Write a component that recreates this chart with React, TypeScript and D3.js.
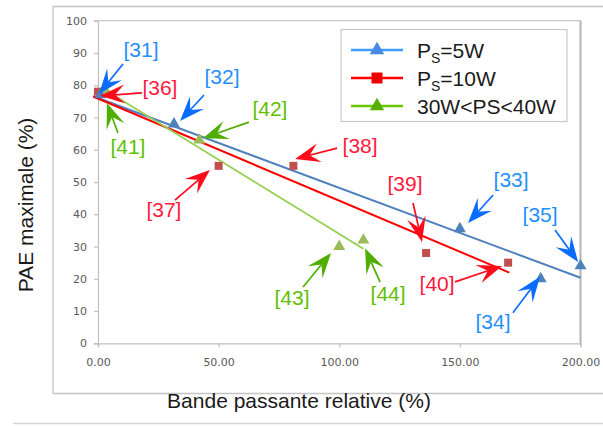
import React, { useEffect, useRef } from "react";
import * as d3 from "d3";

// ---- data ----
const ps5X = [1, 31.5, 150, 183.5, 200];
const ps5Y = [77, 68, 35.5, 20, 24];
const ps10X = [0, 50, 81, 136, 170];
const ps10Y = [78, 55, 55, 28, 25];
const ps30X = [3, 42, 100, 110];
const ps30Y = [78.5, 63, 30, 32];

const trend5X = [-2, 200];
const trend5Y = [76.6, 20.3];
const trend10X = [-2, 170.5];
const trend10Y = [76.5, 21.9];
const trend30X = [2, 110];
const trend30Y = [79, 29.3];

const yTicks = [0, 10, 20, 30, 40, 50, 60, 70, 80, 90, 100];
const xTicks = [0, 50, 100, 150, 200];

const refLabels = ["[31]", "[36]", "[41]", "[32]", "[42]", "[37]", "[38]", "[39]", "[40]", "[33]", "[35]", "[34]", "[43]", "[44]"];
const refX = [0.4, 0.8, 3.7, 34, 43.5, 46.4, 81.7, 134.3, 167.5, 153.4, 199, 183.2, 96.6, 110.7];
const refY = [77.3, 76.7, 74.5, 68.9, 63.6, 53.7, 57.1, 31.4, 24.0, 37.3, 25.2, 20.6, 28, 29.5];
const refSeries = [0, 1, 2, 0, 2, 1, 1, 1, 1, 0, 0, 0, 2, 2];

// ---- layout (pixel offsets of arrow tails / labels from arrow tips) ----
const tailDX = [24, 42, 11, 24, 46, -35, 42, -9, -47, 25, -23, -27, -28, 15];
const tailDY = [-30, -3, 30, -26, -16, 30, -11, -39, 16, -28, -32, 36, 34, 34];
const labDX = [42, 60, 21, 42, 67, -46, 65, -17, -65, 43, -38, -47, -39, 23];
const labDY = [-36.5, -0.4, 51, -37, -22, 47, -6, -51, 25, -36, -40, 52, 52, 53];

const textColors = ["#1f8fff", "#ff1a3c", "#5fbf00"];
const arrowColors = ["#0a6cff", "#ff0a1a", "#4fae00"];

const W = 603;
const H = 426;
const x = d3.scaleLinear().domain([0, 200]).range([98, 580.5]);
const y = d3.scaleLinear().domain([0, 100]).range([343.3, 20.7]);

const lineGen = d3
  .line<[number, number]>()
  .x((d) => x(d[0]))
  .y((d) => y(d[1]));

function zip(a: number[], b: number[]): [number, number][] {
  return a.map((v, i) => [v, b[i]]);
}

const tri = d3.symbol(d3.symbolTriangle, 62)();
const sq = d3.symbol(d3.symbolSquare, 64)();
const triL = d3.symbol(d3.symbolTriangle, 90)();
const sqL = d3.symbol(d3.symbolSquare, 121)();

function arrowPath(tx: number, ty: number, px: number, py: number) {
  const dx = px - tx;
  const dy = py - ty;
  const len = Math.hypot(dx, dy);
  const ux = dx / len;
  const uy = dy / len;
  const nx = -uy;
  const ny = ux;
  const L = 25;
  const Wd = 9.5;
  const notch = 10;
  const lx = px - ux * L + nx * Wd;
  const ly = py - uy * L + ny * Wd;
  const rx = px - ux * L - nx * Wd;
  const ry = py - uy * L - ny * Wd;
  const mx = px - ux * (L - notch);
  const my = py - uy * (L - notch);
  return {
    shaft: `M${tx},${ty}L${mx},${my}`,
    head: `M${px},${py}L${lx},${ly}L${mx},${my}L${rx},${ry}Z`,
  };
}

export default function App() {
  const xAxisRef = useRef<SVGGElement>(null);
  const yAxisRef = useRef<SVGGElement>(null);

  useEffect(() => {
    const xa = d3
      .axisBottom(x)
      .tickValues(xTicks)
      .tickFormat(d3.format(".2f"))
      .tickSize(4)
      .tickPadding(11);
    const ya = d3.axisLeft(y).tickValues(yTicks).tickSize(4).tickPadding(7);
    const gx = d3.select(xAxisRef.current!);
    gx.call(xa as any);
    const gy = d3.select(yAxisRef.current!);
    gy.call(ya as any);
    [gx, gy].forEach((g) => {
      g.select(".domain").attr("stroke", "#bfbfbf").attr("stroke-width", 1.2);
      g.selectAll(".tick line").attr("stroke", "#bfbfbf").attr("stroke-width", 1.2);
      g.selectAll(".tick text")
        .attr("fill", "#595959")
        .attr("font-size", 11)
        .attr("font-family", "DejaVu Sans, sans-serif");
    });
  }, []);

  const font = "Liberation Sans, Arial, sans-serif";

  return (
    <svg width={W} height={H} style={{ position: "absolute", left: 0, top: 0, background: "#fff" }}>
      {/* outer chart frame */}
      <path d="M53,393.5V6.5H603" fill="none" stroke="#c4c4c4" strokeWidth={1.3} />
      <path d="M53,393.5H603" fill="none" stroke="#c4c4c4" strokeWidth={1.3} />
      <path d="M13,423.5H603" fill="none" stroke="#d4d4d4" strokeWidth={1.3} />
      {/* plot area border */}
      <path d={`M${x(0)},${y(100)}H${x(200)}`} fill="none" stroke="#c8c8c8" strokeWidth={1.2} />
      <path d={`M${x(200)},${y(100)}V${y(0)}`} fill="none" stroke="#b4b4b4" strokeWidth={2} />

      <g ref={xAxisRef} transform={`translate(0,${y(0)})`} />
      <g ref={yAxisRef} transform={`translate(${x(0)},0)`} />

      {/* trend lines */}
      <path d={lineGen(zip(trend5X, trend5Y))!} fill="none" stroke="#4f81bd" strokeWidth={2} />
      <path d={lineGen(zip(trend10X, trend10Y))!} fill="none" stroke="#ff0000" strokeWidth={2} />
      <path d={lineGen(zip(trend30X, trend30Y))!} fill="none" stroke="#92d050" strokeWidth={1.8} />

      {/* markers */}
      {zip(ps10X, ps10Y).map((d, i) => (
        <path key={"r" + i} d={sq!} transform={`translate(${x(d[0])},${y(d[1])})`} fill="#c0504d" />
      ))}
      {zip(ps30X, ps30Y).map((d, i) => (
        <path key={"g" + i} d={tri!} transform={`translate(${x(d[0])},${y(d[1])})`} fill="#9bbb59" />
      ))}
      {zip(ps5X, ps5Y).map((d, i) => (
        <path key={"b" + i} d={tri!} transform={`translate(${x(d[0])},${y(d[1])})`} fill="#4f81bd" />
      ))}

      {/* annotations */}
      {refLabels.map((lab, i) => {
        const px = x(refX[i]);
        const py = y(refY[i]);
        const tx = px + tailDX[i];
        const ty = py + tailDY[i];
        const a = arrowPath(tx, ty, px, py);
        const s = refSeries[i];
        return (
          <g key={"a" + i}>
            <path d={a.shaft} stroke={arrowColors[s]} strokeWidth={1.7} fill="none" />
            <path d={a.head} fill={arrowColors[s]} />
            <text
              x={px + labDX[i]}
              y={py + labDY[i]}
              textAnchor="middle"
              fontFamily={font}
              fontSize={21}
              fill={textColors[s]}
            >
              {lab}
            </text>
          </g>
        );
      })}

      {/* legend */}
      <rect x={341} y={29.5} width={226} height={92} fill="#fff" stroke="#c8c8c8" strokeWidth={1.2} />
      <g>
        <line x1={351} x2={403} y1={50} y2={50} stroke="#3d9cff" strokeWidth={2.5} />
        <path d={triL!} transform="translate(377,50)" fill="#4a88e6" />
        <text x={417} y={57.5} fontFamily={font} fontSize={21} fill="#1a1a1a">
          P<tspan fontSize={14} dy={5}>S</tspan>
          <tspan dy={-5}>=5W</tspan>
        </text>
      </g>
      <g>
        <line x1={351} x2={403} y1={78} y2={78} stroke="#ff0000" strokeWidth={2.5} />
        <path d={sqL!} transform="translate(377,78)" fill="#ee0000" />
        <text x={417} y={85.5} fontFamily={font} fontSize={21} fill="#1a1a1a">
          P<tspan fontSize={14} dy={5}>S</tspan>
          <tspan dy={-5}>=10W</tspan>
        </text>
      </g>
      <g>
        <line x1={351} x2={403} y1={106} y2={106} stroke="#66c800" strokeWidth={2.5} />
        <path d={triL!} transform="translate(377,106)" fill="#55b000" />
        <text x={417} y={113.5} fontFamily={font} fontSize={21} fill="#1a1a1a">
          {"30W<PS<40W"}
        </text>
      </g>

      {/* axis titles */}
      <text x={299} y={408} textAnchor="middle" fontFamily={font} fontSize={21} fill="#1a1a1a">
        Bande passante relative (%)
      </text>
      <text
        transform="translate(33,205) rotate(-90)"
        textAnchor="middle"
        fontFamily={font}
        fontSize={21}
        fill="#1a1a1a"
      >
        PAE maximale (%)
      </text>
    </svg>
  );
}
